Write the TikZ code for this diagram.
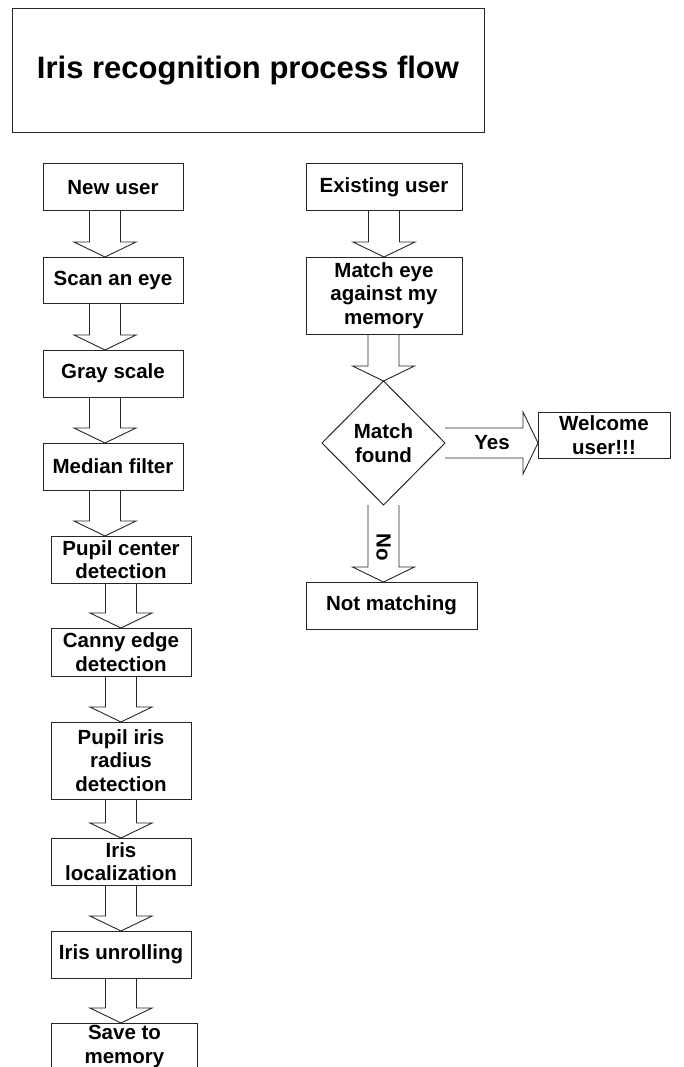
\documentclass[tikz,border=0pt]{standalone}
\usepackage{fontspec}
\setmainfont{Liberation Sans}
\usetikzlibrary{calc, positioning, shapes.geometric}

\tikzset{
  stepbox/.style={draw=black!85, line width=1pt, rectangle, inner sep=0pt, outer sep=0pt, align=center,
    minimum width=140pt, minimum height=47pt, font=\bfseries\fontsize{20.5}{23.5}\selectfont},
  choice/.style={draw=black!85, line width=1pt, diamond, inner sep=0pt, outer sep=0pt, align=center,
    minimum width=123pt, minimum height=124pt, font=\bfseries\fontsize{20.5}{23.5}\selectfont},
  fatline/.style={draw=black!85, line width=0.9pt, line join=miter},
  word/.style={inner sep=0pt, font=\bfseries\fontsize{20.5}{23.5}\selectfont},
}

% block arrow going down: [x shift]{from}{to}
\newcommand{\fatdown}[3][0]{%
  \draw[fatline] let \p1=($(#2.south)+(#1,0)$), \p2=(#3.north) in
    (\x1-15.5pt,\y1) -- (\x1-15.5pt,\y2+15pt) -- (\x1-31pt,\y2+15pt) -- (\x1,\y2)
    -- (\x1+31pt,\y2+15pt) -- (\x1+15.5pt,\y2+15pt) -- (\x1+15.5pt,\y1);
}
% block arrow going right: {from}{to}
\newcommand{\fatright}[2]{%
  \draw[fatline] let \p1=(#1.east), \p2=(#2.west) in
    (\x1,\y1+15pt) -- (\x2-15pt,\y1+15pt) -- (\x2-15pt,\y1+31pt) -- (\x2,\y1)
    -- (\x2-15pt,\y1-31pt) -- (\x2-15pt,\y1-15pt) -- (\x1,\y1-15pt);
}

\begin{document}
\begin{tikzpicture}[x=1pt, y=-1pt]
        \useasboundingbox (0,0) rectangle (683,1067);
        \clip (0,0) rectangle (683,1067);

        % 表題
        \node[stepbox, minimum width=472pt, minimum height=124pt,
              font=\bfseries\fontsize{31}{36}\selectfont] (title) at (248,71) {Iris recognition process flow};

        % 登録の流れ
        \node[stepbox] (new) at (113,187.5) {New user};
        \node[stepbox, minimum height=46pt] (scan) at (113,280) {Scan an eye};
        \node[stepbox] (gray) at (113,373.5) {Gray scale};
        \node[stepbox] (median) at (113,466.5) {Median filter};
        \node[stepbox] (pupil) at (121,559.5) {Pupil center\\detection};
        \node[stepbox, minimum height=48pt] (canny) at (121,652) {Canny edge\\detection};
        \node[stepbox, minimum height=77pt] (radius) at (121,760.5) {Pupil iris\\radius\\detection};
        \node[stepbox] (local) at (121,861.5) {Iris\\localization};
        \node[stepbox] (unroll) at (121,954.5) {Iris unrolling};
        \node[stepbox, minimum width=146pt] (save) at (124.5,1046.5) {Save to\\memory};

        % 照合の流れ
        \node[stepbox, minimum width=156pt] (old) at (384,187.5) {Existing user};
        \node[stepbox, minimum width=156pt, minimum height=77pt] (match) at (384,295.5) {Match eye\\against my\\memory};
        \node[choice] (found) at (383.5,443) {Match\\found};
        \node[stepbox, minimum width=132pt, minimum height=46pt] (welcome) at (604,435) {Welcome\\user!!!};
        \node[stepbox, minimum width=171pt] (nomatch) at (391.5,605.5) {Not matching};

        % 矢印
        \fatdown[-8]{new}{scan}
        \fatdown[-8]{scan}{gray}
        \fatdown[-8]{gray}{median}
        \fatdown[-8]{median}{pupil}
        \fatdown{pupil}{canny}
        \fatdown{canny}{radius}
        \fatdown{radius}{local}
        \fatdown{local}{unroll}
        \fatdown{unroll}{save}

        \fatdown{old}{match}
        \fatdown[-0.5]{match}{found}
        \fatright{found}{welcome}
        \fatdown{found}{nomatch}

        \node[word] (yes) at (492,443) {Yes};
        \node[word, rotate=-90] (no) at (383.5,547) {No};
\end{tikzpicture}
\end{document}
